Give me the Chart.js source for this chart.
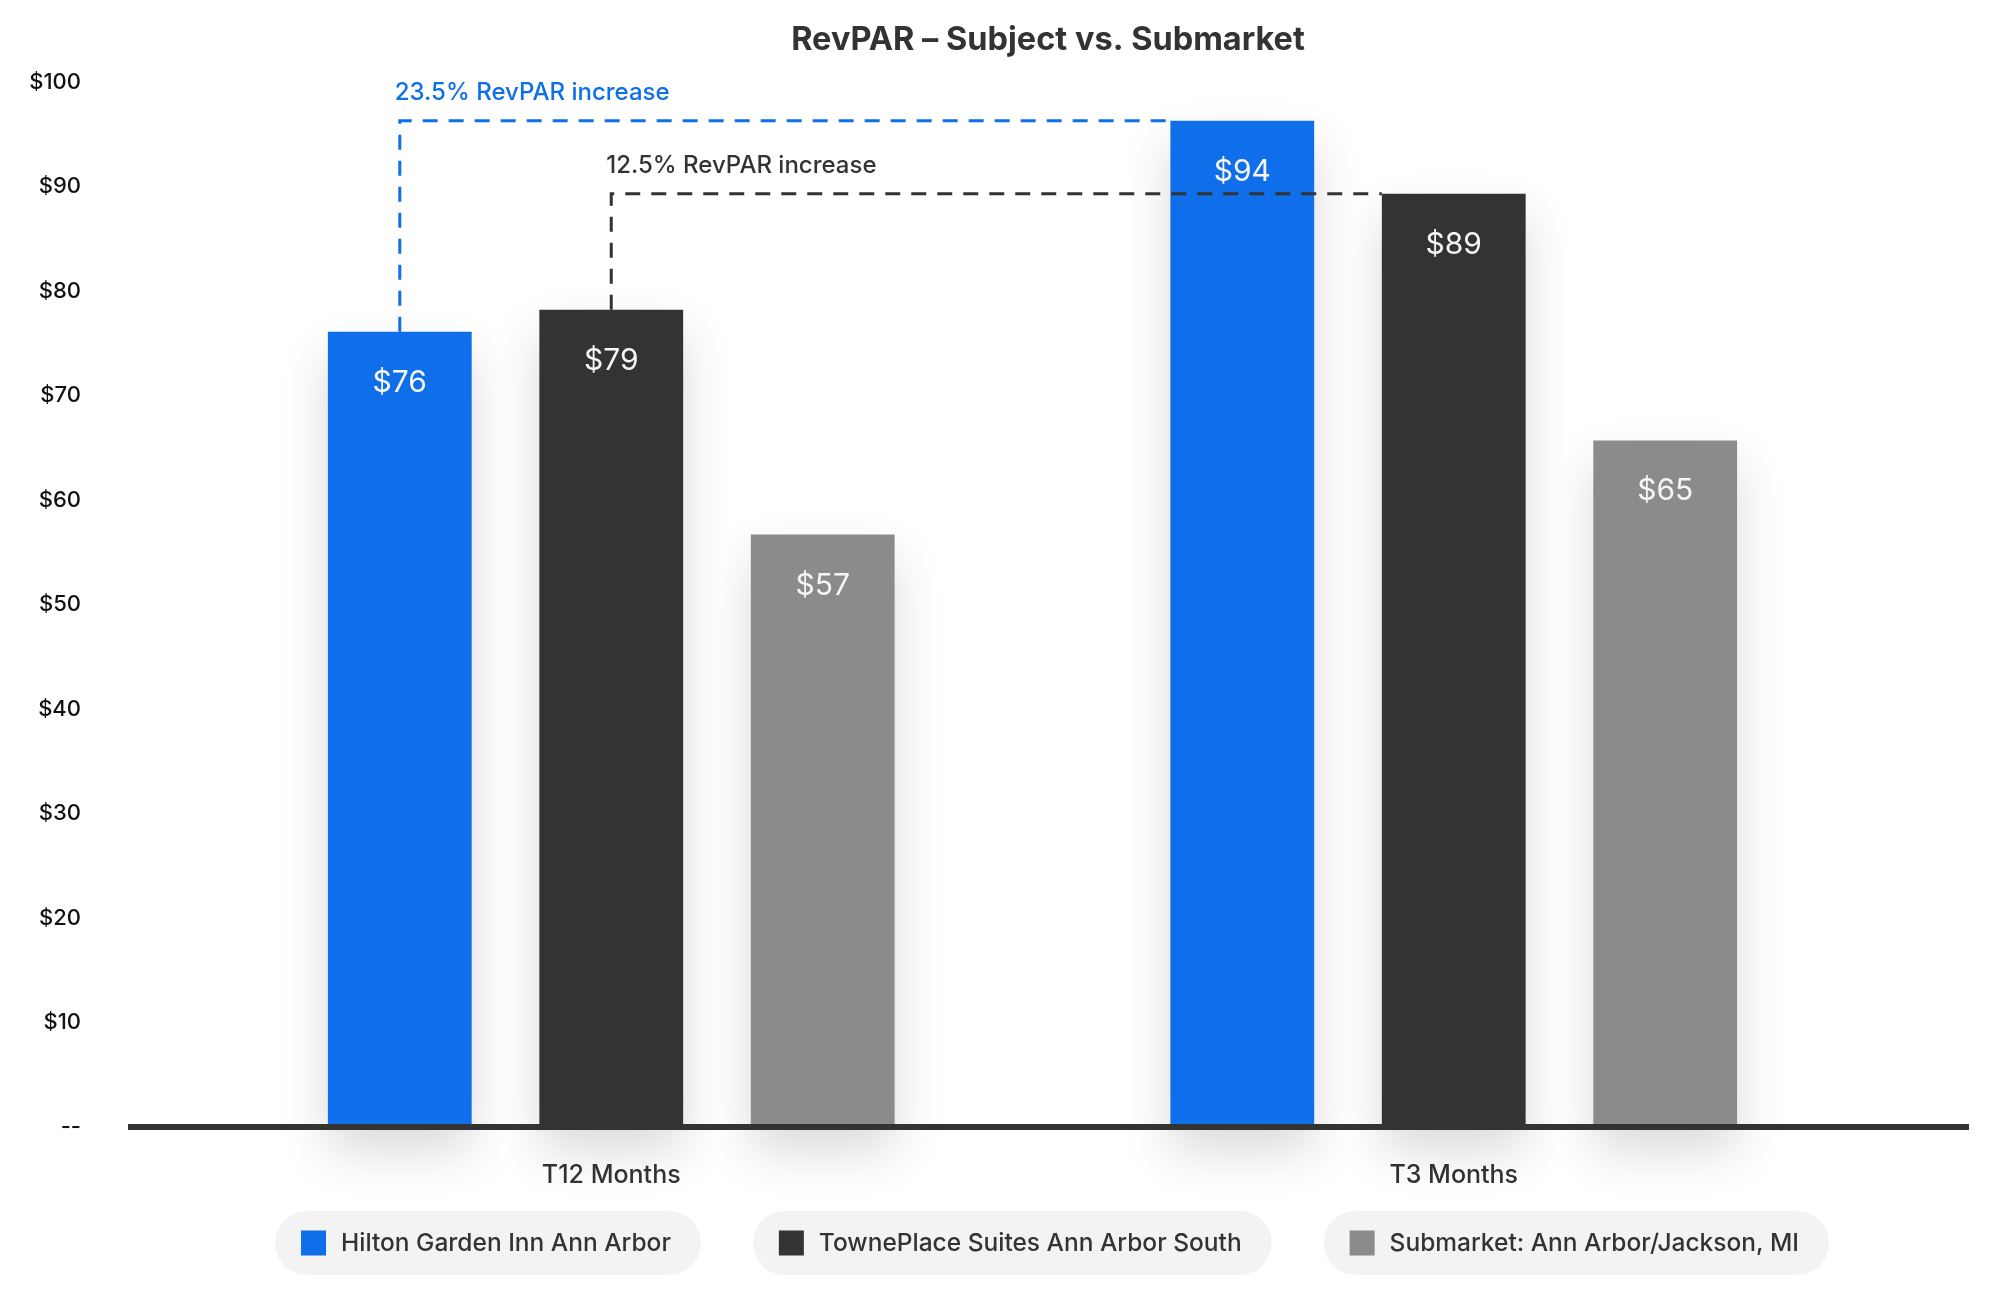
<!DOCTYPE html>
<html>
<head>
<meta charset="utf-8">
<script src="https://cdn.jsdelivr.net/npm/chart.js@4.4.1/dist/chart.umd.min.js"></script>
<style>
  html, body { margin: 0; padding: 0; background: #fff; }
  #wrap { width: 2000px; height: 1299px; }
</style>
</head>
<body>
<div id="wrap"><canvas id="revparChart" width="2000" height="1299"></canvas></div>
<script>
// data
const categories = ["T12 Months", "T3 Months"];
const seriesNames = ["Hilton Garden Inn Ann Arbor", "TownePlace Suites Ann Arbor South", "Submarket: Ann Arbor/Jackson, MI"];
const hiltonValues = [76.1, 96.3];
const towneplaceValues = [78.2, 89.3];
const submarketValues = [56.7, 65.7];
// values printed inside the bars
const hiltonPrinted = [76, 94];
const towneplacePrinted = [79, 89];
const submarketPrinted = [57, 65];
const increaseNotes = ["23.5% RevPAR increase", "12.5% RevPAR increase"];
const yTicks = [0, 10, 20, 30, 40, 50, 60, 70, 80, 90, 100];

const BLUE = "#0f6ee9";
const DARK = "#333333";
const GREY = "#8b8b8b";
const FONT = "Inter, 'Noto Sans', sans-serif";
const chartTitle = "RevPAR \u2013 Subject vs. Submarket";

const printed = [hiltonPrinted, towneplacePrinted, submarketPrinted];
const noteColors = [BLUE, DARK];

// soft shadow under the bars
const barShadow = {
  id: "barShadow",
  beforeDatasetsDraw(chart) {
    const ctx = chart.ctx;
    ctx.save();
    ctx.shadowColor = "rgba(0,0,0,0.15)";
    ctx.shadowBlur = 50;
    ctx.shadowOffsetY = 24;
  },
  afterDatasetsDraw(chart) {
    chart.ctx.restore();
  }
};

const decorations = {
  id: "decorations",
  afterDatasetsDraw(chart) {
    const { ctx, chartArea, scales } = chart;
    const base = scales.y.getPixelForValue(0);
    const lineLeft = chartArea.left - 62;
    const lineRight = chartArea.right + 94;

    ctx.save();
    // baseline
    ctx.fillStyle = DARK;
    ctx.fillRect(lineLeft, base - 3, lineRight - lineLeft, 6);

    // dashed increase brackets
    increaseNotes.forEach((note, i) => {
      const meta = chart.getDatasetMeta(i);
      const from = meta.data[0];
      const to = meta.data[1];
      ctx.strokeStyle = noteColors[i];
      ctx.lineWidth = 3;
      ctx.setLineDash([15, 11]);
      ctx.beginPath();
      ctx.moveTo(from.x, from.y);
      ctx.lineTo(from.x, to.y);
      ctx.lineTo(to.x - to.width / 2, to.y);
      ctx.stroke();
      ctx.setLineDash([]);
      ctx.fillStyle = noteColors[i];
      ctx.font = "500 24px " + FONT;
      ctx.textAlign = "left";
      ctx.textBaseline = "alphabetic";
      ctx.fillText(note, from.x - 5, to.y - 21);
    });

    // values inside bars
    ctx.font = "400 30px " + FONT;
    ctx.fillStyle = "#f5f5f5";
    ctx.textAlign = "center";
    ctx.textBaseline = "middle";
    chart.data.datasets.forEach((ds, i) => {
      chart.getDatasetMeta(i).data.forEach((bar, j) => {
        ctx.fillText("$" + printed[i][j], bar.x, bar.y + 51);
      });
    });

    // title
    ctx.font = "700 32.5px " + FONT;
    ctx.fillStyle = DARK;
    ctx.fillText(chartTitle, chartArea.left + 858, 40);
    ctx.restore();
  },
  afterDraw(chart) {
    // pill legend
    const { ctx, chartArea } = chart;
    const center = chartArea.left + 862;
    const cy = 1243, h = 64, box = 25, padL = 26, gapBox = 15, padR = 30, gap = 52;
    ctx.save();
    ctx.font = "500 24.5px " + FONT;
    const items = chart.data.datasets.map(ds => {
      const tw = ctx.measureText(ds.label).width;
      return { label: ds.label, color: ds.backgroundColor, tw, w: padL + box + gapBox + tw + padR };
    });
    const total = items.reduce((s, it) => s + it.w, 0) + gap * (items.length - 1);
    let x = center - total / 2;
    items.forEach(it => {
      ctx.fillStyle = "#f3f3f3";
      ctx.beginPath();
      ctx.roundRect(x, cy - h / 2, it.w, h, h / 2);
      ctx.fill();
      ctx.fillStyle = it.color;
      ctx.fillRect(x + padL, cy - box / 2, box, box);
      ctx.fillStyle = DARK;
      ctx.textAlign = "left";
      ctx.textBaseline = "middle";
      ctx.fillText(it.label, x + padL + box + gapBox, cy + 1);
      x += it.w + gap;
    });
    ctx.restore();
  }
};

const ctx = document.getElementById("revparChart").getContext("2d");

new Chart(ctx, {
  type: "bar",
  data: {
    labels: categories,
    datasets: [
      { label: seriesNames[0], data: hiltonValues, backgroundColor: BLUE },
      { label: seriesNames[1], data: towneplaceValues, backgroundColor: DARK },
      { label: seriesNames[2], data: submarketValues, backgroundColor: GREY }
    ]
  },
  options: {
    responsive: false,
    animation: false,
    devicePixelRatio: 1,
    layout: { padding: { top: 82, right: 125, bottom: 0, left: 0 } },
    datasets: {
      bar: { barPercentage: 0.68, categoryPercentage: 0.753, clip: false, borderWidth: 0 }
    },
    plugins: {
      legend: { display: false },
      title: { display: false },
      tooltip: { enabled: false }
    },
    scales: {
      x: {
        grid: { display: false, drawTicks: false },
        border: { display: false },
        ticks: { color: DARK, font: { family: FONT, size: 25, weight: "500" }, padding: 33 },
        afterFit(scale) { scale.height = 172; }
      },
      y: {
        min: 0,
        max: 100,
        grid: { display: false, drawTicks: false },
        border: { display: false },
        afterBuildTicks(scale) { scale.ticks = yTicks.map(v => ({ value: v })); },
        ticks: {
          color: "#111",
          padding: 109,
          font: { family: FONT, size: 22, weight: "500" },
          callback: v => (v === 0 ? "--" : "$" + v)
        },
        afterFit(scale) {
          scale.width = 190;
          scale.paddingTop = 0;
          scale.paddingBottom = 0;
        }
      }
    }
  },
  plugins: [barShadow, decorations]
});
</script>
</body>
</html>
